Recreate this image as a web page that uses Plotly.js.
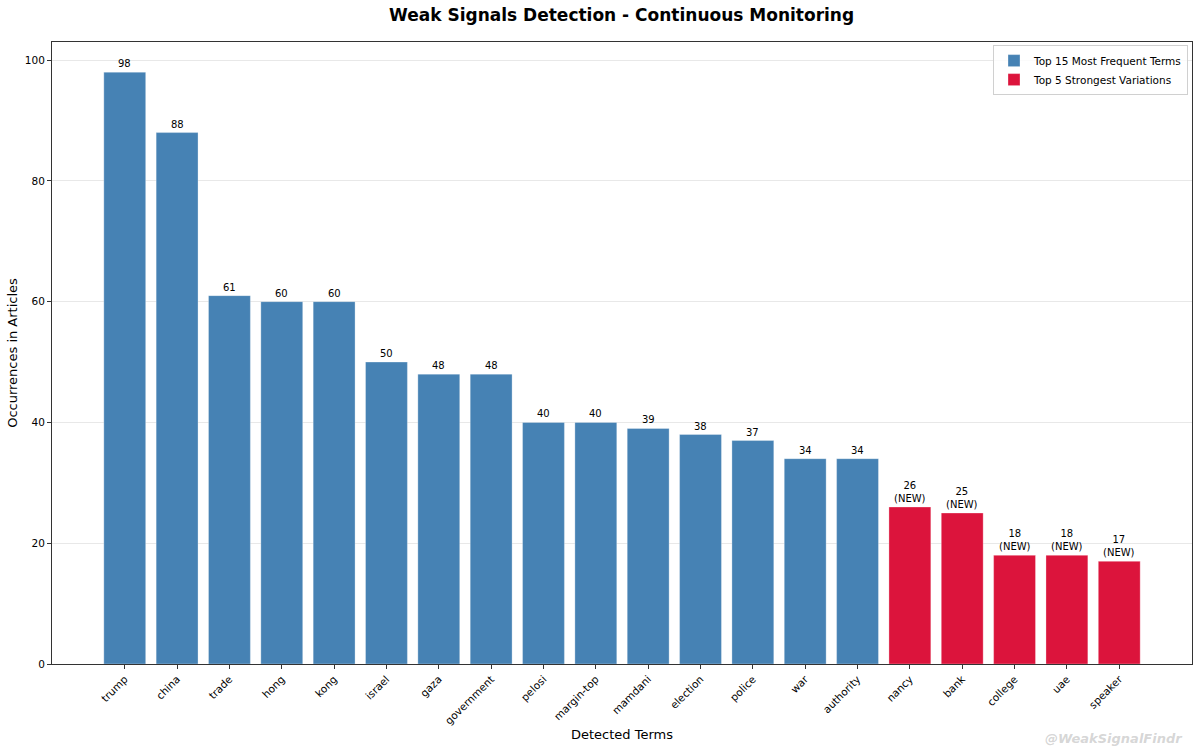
<!DOCTYPE html>
<html>
<head>
<meta charset="utf-8">
<script src="https://cdn.plot.ly/plotly-3.0.1.min.js"></script>
<style>
  body { margin: 0; background: #fff; }
  #chart { width: 1200px; height: 753px; }
</style>
</head>
<body>
<div id="chart"></div>
<script>
// Top 15 most frequent terms
var freqTerms = ['trump', 'china', 'trade', 'hong', 'kong', 'israel', 'gaza', 'government',
                 'pelosi', 'margin-top', 'mamdani', 'election', 'police', 'war', 'authority'];
var freqCounts = [98, 88, 61, 60, 60, 50, 48, 48, 40, 40, 39, 38, 37, 34, 34];

// Top 5 strongest variations (new terms)
var varTerms = ['nancy', 'bank', 'college', 'uae', 'speaker'];
var varCounts = [26, 25, 18, 18, 17];

var allTerms = freqTerms.concat(varTerms);
var font = 'DejaVu Sans, Liberation Sans, sans-serif';

var traces = [
  {
    type: 'bar',
    name: 'Top 15 Most Frequent Terms',
    x: freqTerms,
    y: freqCounts,
    width: 0.8,
    marker: { color: '#4682B4', line: { color: 'rgba(255,255,255,0.6)', width: 0.5 } }
  },
  {
    type: 'bar',
    name: 'Top 5 Strongest Variations',
    x: varTerms,
    y: varCounts,
    width: 0.8,
    marker: { color: '#DC143C', line: { color: 'rgba(255,255,255,0.6)', width: 0.5 } }
  }
];

// value labels above bars
var annotations = [];
freqTerms.forEach(function (t, i) {
  annotations.push({
    x: t, y: freqCounts[i], xref: 'x', yref: 'y',
    text: String(freqCounts[i]), showarrow: false,
    yanchor: 'bottom', yshift: 1,
    font: { family: font, size: 10, color: '#000' }
  });
});
varTerms.forEach(function (t, i) {
  annotations.push({
    x: t, y: varCounts[i], xref: 'x', yref: 'y',
    text: varCounts[i] + '<br>(NEW)', showarrow: false,
    yanchor: 'bottom', yshift: 1,
    font: { family: font, size: 10, color: '#000' }
  });
});

// watermark (below the plot, bottom right)
annotations.push({
  x: 0.994, y: -0.119, xref: 'paper', yref: 'paper',
  xanchor: 'right', yanchor: 'middle',
  text: '<b><i>@WeakSignalFindr</i></b>', showarrow: false,
  font: { family: font, size: 13, color: 'rgba(150,150,150,0.4)' }
});

var layout = {
  width: 1200,
  height: 753,
  margin: { l: 52, r: 8, t: 42, b: 89 },
  paper_bgcolor: '#fff',
  plot_bgcolor: '#fff',
  font: { family: font, size: 10, color: '#000' },
  title: {
    text: '<b>Weak Signals Detection - Continuous Monitoring</b>',
    font: { family: font, size: 17, color: '#000' },
    x: 0.518, xanchor: 'center', y: 0.98, yanchor: 'middle'
  },
  barmode: 'overlay',
  bargap: 0.2,
  showlegend: true,
  legend: {
    x: 0.9965, xanchor: 'right', y: 0.995, yanchor: 'top',
    bgcolor: 'rgba(255,255,255,0.8)',
    bordercolor: '#d0d0d0', borderwidth: 1,
    font: { family: font, size: 10.5, color: '#000' },
    tracegroupgap: 0,
    itemwidth: 30
  },
  xaxis: {
    type: 'category',
    categoryorder: 'array',
    categoryarray: allTerms,
    range: [-1.39, 20.39],
    tickangle: -45,
    ticks: 'outside', ticklen: 4, tickcolor: '#333',
    showline: true, linecolor: '#333', linewidth: 1, mirror: true,
    showgrid: false, zeroline: false,
    tickfont: { family: font, size: 10.5, color: '#000' },
    title: { text: 'Detected Terms', font: { family: font, size: 13, color: '#000' }, standoff: 4 }
  },
  yaxis: {
    range: [0, 103],
    tickvals: [0, 20, 40, 60, 80, 100],
    ticks: 'outside', ticklen: 4, tickcolor: '#333',
    showline: true, linecolor: '#333', linewidth: 1, mirror: true,
    showgrid: true, gridcolor: 'rgba(0,0,0,0.09)', gridwidth: 1,
    zeroline: false,
    tickfont: { family: font, size: 10.5, color: '#000' },
    title: { text: 'Occurrences in Articles', font: { family: font, size: 13, color: '#000' }, standoff: 4 }
  },
  annotations: annotations
};

Plotly.newPlot('chart', traces, layout, { displayModeBar: false, staticPlot: true });
</script>
</body>
</html>
